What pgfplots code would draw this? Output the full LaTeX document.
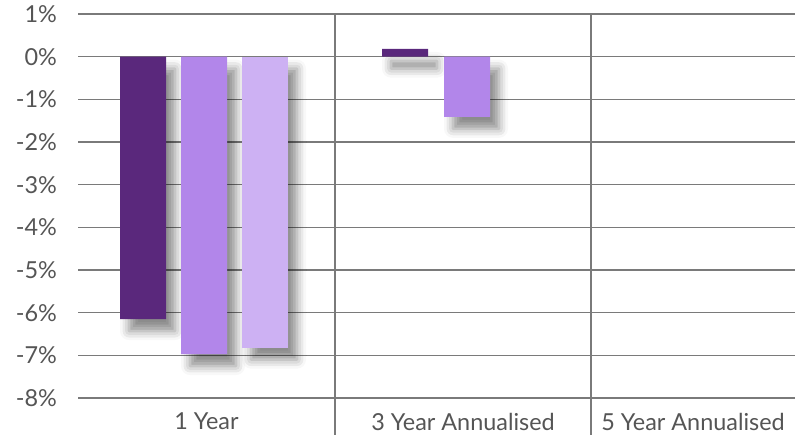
\documentclass[border=0pt]{standalone}
\usepackage{pgfplots}
\pgfplotsset{compat=1.18}
\usepackage{fontspec}
\setmainfont{Lato}
\usetikzlibrary{shadows.blur}

\definecolor{dark}{HTML}{5A287C}
\definecolor{mid}{HTML}{B286EA}
\definecolor{light}{HTML}{CDB1F3}
\definecolor{gridc}{HTML}{7A7A7A}
\definecolor{txt}{HTML}{555555}

\begin{document}
\begin{tikzpicture}
\begin{axis}[
  at={(0,0)}, anchor=south west,
  scale only axis,
  width=358.5pt, height=192pt,
  xmin=78, xmax=795,
  ymin=-8, ymax=1,
  clip=false,
  axis line style={draw=none},
  major tick length=0pt,
  ytick={-8,-7,...,1},
  yticklabels={-8\%,-7\%,-6\%,-5\%,-4\%,-3\%,-2\%,-1\%,0\%,1\%},
  xtick={206.5,463,693},
  xticklabels={1 Year,3 Year Annualised,5 Year Annualised},
  ymajorgrids,
  grid style={gridc, line width=0.8pt},
  ticklabel style={font=\fontsize{11.7}{13}\selectfont, text=txt},
  yticklabel style={xshift=-7pt},
  xticklabel style={yshift=-4pt},
  ybar, bar shift=0pt, bar width=46,
  every axis plot/.append style={draw=none,
    blur shadow={shadow xshift=4.5pt, shadow yshift=-6pt, shadow blur radius=4.5pt, shadow opacity=45}},
]
% 1 Year / 3 Year Annualised (x = group position)
\addplot[fill=dark] coordinates {(143,-6.15) (405,0.18)};
\addplot[fill=mid] coordinates {(204,-6.97) (467,-1.41)};
\addplot[fill=light] coordinates {(265,-6.82)};

\draw[gridc, line width=0.8pt] (axis cs:335,1) -- ([yshift=-18.5pt]axis cs:335,-8);
\draw[gridc, line width=0.8pt] (axis cs:591,1) -- ([yshift=-18.5pt]axis cs:591,-8);
\end{axis}
\pgfresetboundingbox
\path[use as bounding box] (-39pt,-18.5pt) rectangle (358.5pt,199pt);
\end{tikzpicture}
\end{document}
